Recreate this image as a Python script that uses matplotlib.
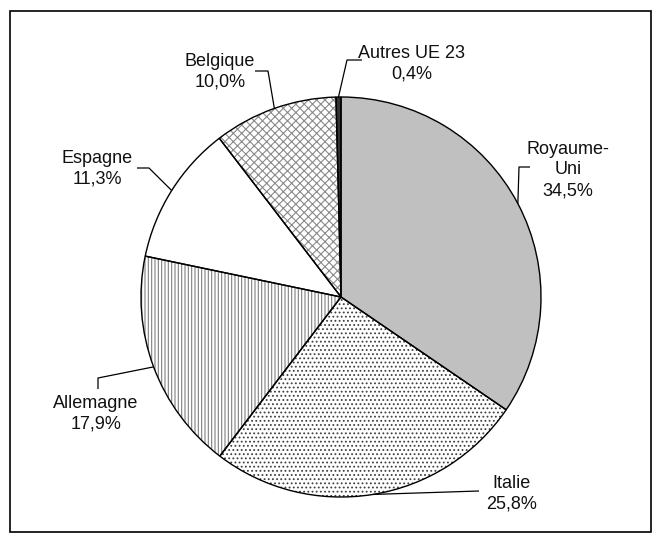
import numpy as np
import matplotlib
matplotlib.use("Agg")
import matplotlib.pyplot as plt
from matplotlib.patches import Rectangle

plt.rcParams['font.family'] = ['Liberation Sans', 'DejaVu Sans']
plt.rcParams['hatch.linewidth'] = 0.8

# ---- data ----
labels = ["Royaume-\nUni", "Italie", "Allemagne", "Espagne", "Belgique", "Autres UE 23"]
values = [34.5, 25.8, 17.9, 11.3, 10.0, 0.4]
pct_text = ["34,5%", "25,8%", "17,9%", "11,3%", "10,0%", "0,4%"]

# ---- style ----
faces = ["#c0c0c0", "white", "white", "white", "white", "#333333"]
hatches = [None, "....", "|||||", None, "xxxx", None]
hatch_cols = ["#c0c0c0", "#404040", "#808080", "white", "#8a8a8a", "#333333"]

W, H = 659, 540
fig = plt.figure(figsize=(W / 100, H / 100), dpi=100)
ax = fig.add_axes([0, 0, 1, 1])

def Y(ypx):
    return H - ypx

cx, cy, R = 341, Y(297), 200

# fill + hatch layer
wedges, _ = ax.pie(values, startangle=90, counterclock=False, center=(cx, cy),
                   radius=R, colors=faces, wedgeprops=dict(linewidth=0))
for w, h, hc in zip(wedges, hatches, hatch_cols):
    w.set_edgecolor(hc)
    if h:
        w.set_hatch(h)
# outline layer
outl, _ = ax.pie(values, startangle=90, counterclock=False, center=(cx, cy),
                 radius=R, wedgeprops=dict(fill=False, linewidth=1.0, edgecolor="black"))

# label layout (pixel coords): label centre, elbow point, leader end
layout = [
    dict(pos=(568, 170), elbow=(519, 167), end=(530, 167)),
    dict(pos=(512, 494), elbow=None, end=(479, 491)),
    dict(pos=(96, 414), elbow=(98, 378), end=(98, 389)),
    dict(pos=(97, 169), elbow=(149, 168), end=(137, 168)),
    dict(pos=(220, 72), elbow=(268, 71), end=(255, 71)),
    dict(pos=(412, 64), elbow=(347, 60), end=(362, 60)),
]

for w, lab, pct, L in zip(wedges, labels, pct_text, layout):
    mid = np.deg2rad((w.theta1 + w.theta2) / 2)
    x0 = cx + R * np.cos(mid)
    y0 = cy + R * np.sin(mid)
    xs, ys = [x0], [y0]
    if L["elbow"] is not None:
        xs.append(L["elbow"][0]); ys.append(Y(L["elbow"][1]))
    xs.append(L["end"][0]); ys.append(Y(L["end"][1]))
    ax.plot(xs, ys, color="black", lw=0.9, solid_capstyle="butt")
    ax.text(L["pos"][0], Y(L["pos"][1]), lab + "\n" + pct, ha="center", va="center",
            fontsize=13, linespacing=1.3, color="#111111")

ax.add_patch(Rectangle((10, Y(532)), 641, 521, fill=False, lw=1.2, edgecolor="black"))

ax.set_xlim(0, W)
ax.set_ylim(0, H)
ax.set_aspect("auto")
ax.axis("off")
fig.savefig("out.png", dpi=100)
